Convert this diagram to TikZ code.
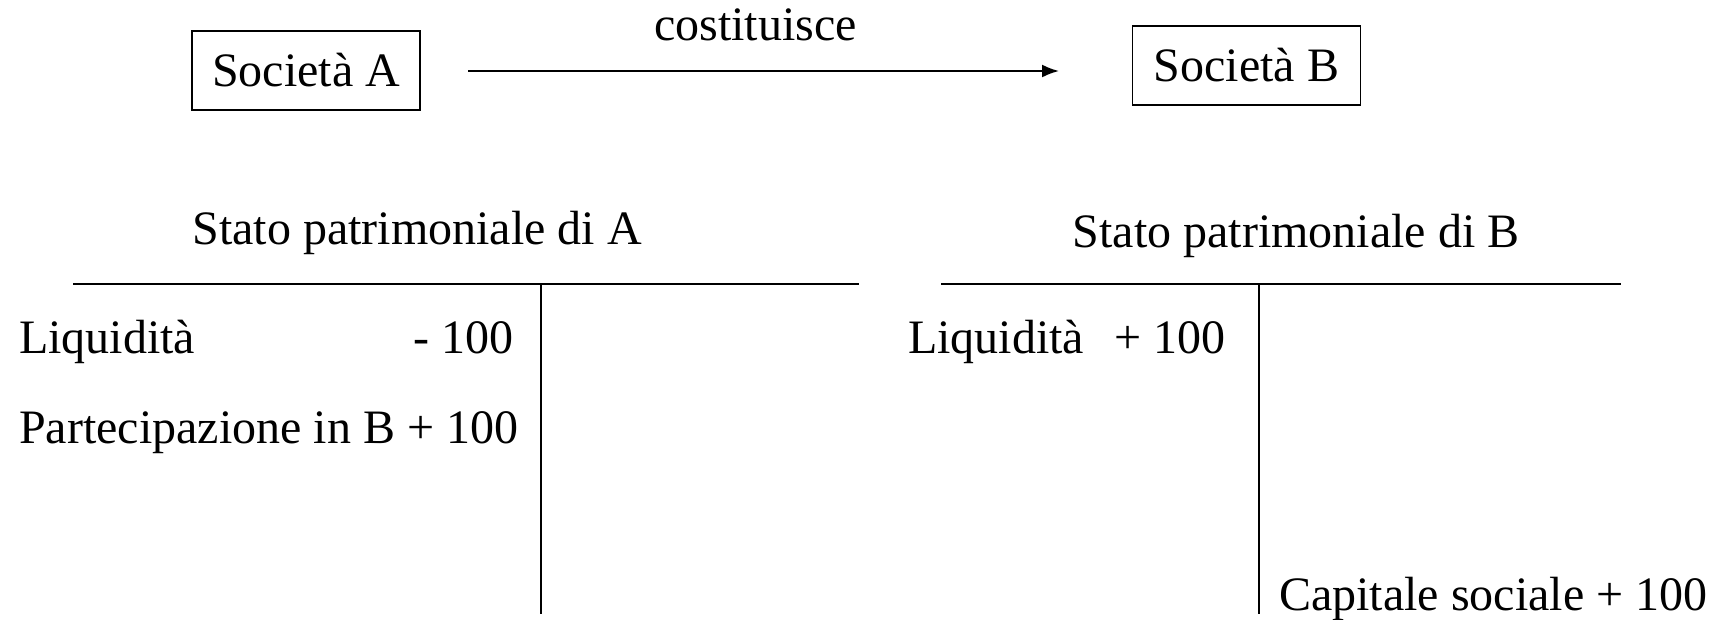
\documentclass[tikz,border=0pt]{standalone}
\usepackage{fontspec}
\setmainfont{Liberation Serif}
\usetikzlibrary{arrows.meta}
\begin{document}
\begin{tikzpicture}[x=1pt,y=-1pt,
  txt/.style={inner sep=0pt,font=\fontsize{48}{56}\selectfont},
  boxnode/.style={draw,line width=1.8pt,minimum width=228pt,minimum height=79pt,inner sep=0pt,font=\fontsize{48}{56}\selectfont},
  rule/.style={line width=2pt}]
\useasboundingbox (0,0) rectangle (1720,619);
\node[boxnode] (A) at (306,70.5) {Società A};
\node[boxnode] (B) at (1246.5,65.5) {Società B};
\coordinate (arrS) at (468,71);
\coordinate (arrE) at (1059,71);
\draw[rule,-{Latex[length=17pt,width=13pt]}] (arrS) -- (arrE) node[midway,txt,anchor=base,yshift=31pt,xshift=-8pt] (lab) {costituisce};
\node[txt,anchor=base] (spA) at (417,244) {Stato patrimoniale di A};
\node[txt,anchor=base] (spB) at (1296,247) {Stato patrimoniale di B};
\coordinate (hA1) at (73,284); \coordinate (hA2) at (859,284);
\coordinate (vA1) at (541,284); \coordinate (vA2) at (541,614);
\draw[rule] (hA1) -- (hA2);
\draw[rule] (vA1) -- (vA2);
\coordinate (hB1) at (941,284); \coordinate (hB2) at (1621,284);
\coordinate (vB1) at (1259,284); \coordinate (vB2) at (1259,614);
\draw[rule] (hB1) -- (hB2);
\draw[rule] (vB1) -- (vB2);
\node[txt,anchor=base west] (l1) at (19,353) {Liquidità};
\node[txt,anchor=base east] (l1v) at (514,353) {- 100};
\node[txt,anchor=base west] (l2) at (19,443) {Partecipazione in B + 100};
\node[txt,anchor=base west] (r1) at (908,353) {Liquidità\hspace{30pt}+ 100};
\node[txt,anchor=base west] (r2) at (1279,610) {Capitale sociale + 100};
\end{tikzpicture}
\end{document}
